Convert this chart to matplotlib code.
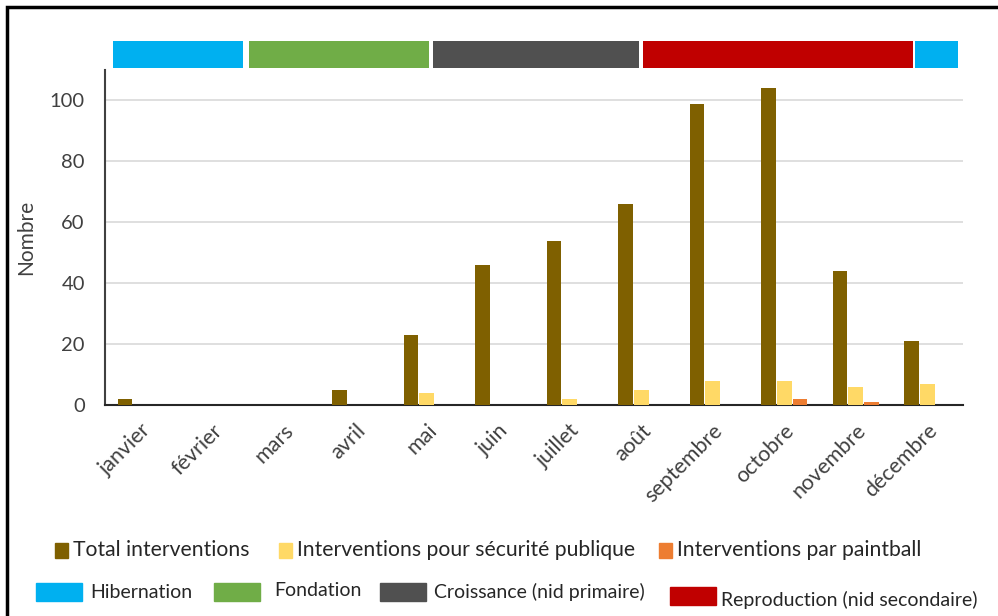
import matplotlib
matplotlib.use("Agg")
import matplotlib.pyplot as plt
from matplotlib.patches import Rectangle
import numpy as np

plt.rcParams['font.family'] = ['Lato', 'DejaVu Sans']

W, H = 998, 616

months = ["janvier", "février", "mars", "avril", "mai", "juin", "juillet",
          "août", "septembre", "octobre", "novembre", "décembre"]
total = [2, 0, 0, 5, 23, 46, 54, 66, 99, 104, 44, 21]
securite = [0, 0, 0, 0, 4, 0, 2, 5, 8, 8, 6, 7]
paintball = [0, 0, 0, 0, 0, 0, 0, 0, 0, 2, 1, 0]

series_labels = ["Total interventions", "Interventions pour sécurité publique",
                 "Interventions par paintball"]
series_colors = ["#7f6000", "#ffd966", "#ed7d31"]

# cycle phases, start/end in months from 1 January
phase_names = ["Hibernation", "Fondation", "Croissance (nid primaire)",
               "Reproduction (nid secondaire)"]
phase_colors = ["#00b0f0", "#70ad47", "#505050", "#c00000"]
phase_idx = [0, 1, 2, 3, 0]
phase_start = [0.11, 2.01, 4.59, 7.52, 11.33]
phase_end = [1.93, 4.53, 7.47, 11.30, 11.93]

TEXT = "#404040"

fig = plt.figure(figsize=(W / 100, H / 100), dpi=100)
ax = fig.add_axes([105 / W, 1 - 405 / H, 858 / W, 335 / H])

x = np.arange(len(months))
bw = 0.205
off = 0.22
for k, (vals, col, lab) in enumerate(zip([total, securite, paintball],
                                         series_colors, series_labels)):
    ax.bar(x + (k - 1) * off, vals, width=bw, color=col, label=lab, zorder=3)

ax.set_xlim(-0.5, len(months) - 0.5)
ax.set_ylim(0, 110)
ax.set_yticks(range(0, 101, 20))
ax.yaxis.grid(True, color="#d9d9d9", lw=1.2, zorder=0)
ax.set_axisbelow(True)
for s in ["top", "right"]:
    ax.spines[s].set_visible(False)
ax.spines["left"].set_color("#404040")
ax.spines["left"].set_linewidth(1.5)
ax.spines["bottom"].set_color("#262626")
ax.spines["bottom"].set_linewidth(1.5)
ax.tick_params(length=0, colors=TEXT)
ax.tick_params(axis="y", pad=14.5, labelsize=14.5)
ax.set_xticks(x)
ax.set_xticklabels(months, rotation=45, ha="right", rotation_mode="anchor")
ax.tick_params(axis="x", pad=11, labelsize=15.5)
ax.set_ylabel("Nombre", color=TEXT, fontsize=15, labelpad=10)

# phase band above the plot
for i, s, e in zip(phase_idx, phase_start, phase_end):
    ax.add_patch(Rectangle((s - 0.5, 110.6), e - s, 8.8,
                           facecolor=phase_colors[i], edgecolor="none",
                           clip_on=False, zorder=4))


def px(xp, yp):
    return xp / W, 1 - yp / H


# legend row 1 (series)
row1 = [(55, 73), (279, 297), (659, 677)]
for (sx, tx), col, lab in zip(row1, series_colors, series_labels):
    fig.patches.append(Rectangle(px(sx, 558), 13 / W, 15 / H, color=col,
                                 transform=fig.transFigure))
    fig.text(*px(tx, 550), lab, fontsize=15.2, color="#262626", va="center")

# legend row 2 (phases)
row2 = [(36, 583, 90, 592), (214, 583, 274, 590), (380, 583, 434, 592),
        (670, 587, 721, 600)]
for (sx, sy, tx, ty), col, lab in zip(row2, phase_colors, phase_names):
    fig.patches.append(Rectangle(px(sx, sy + 18), 46 / W, 18 / H, color=col,
                                 transform=fig.transFigure))
    fig.text(*px(tx, ty), lab, fontsize=14, color="#262626", va="center")

# frame
fig.patches.append(Rectangle(px(7, 640), 1.2, 633 / H, fill=False,
                             edgecolor="black", lw=2.5,
                             transform=fig.transFigure))

fig.savefig("out.png", dpi=100)
